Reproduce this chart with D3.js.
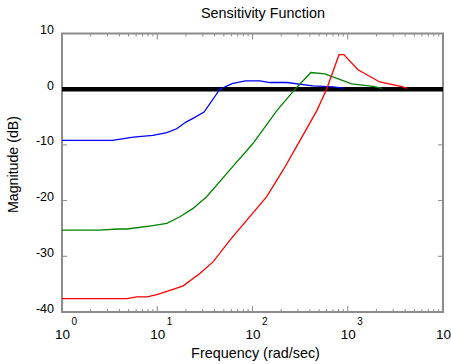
<!DOCTYPE html>
<html>
<head>
<meta charset="utf-8">
<script src="https://cdn.jsdelivr.net/npm/d3@7"></script>
<style>
  body { margin: 0; background: #fff; }
  text { font-family: "Liberation Sans", Arial, sans-serif; fill: #000; }
</style>
</head>
<body>
<div id="chart"></div>
<script>
// frequency (rad/sec) and magnitude (dB)
const blueFreq = [1, 3.4, 5.6, 9, 12.6, 16, 20, 24, 31, 45.5, 61, 84, 120, 152, 230, 430, 700, 900];
const blueMag  = [-9.2, -9.2, -8.6, -8.3, -7.8, -7.1, -5.9, -5.2, -4.1, 0, 1.0, 1.5, 1.5, 1.2, 1.2, 0.6, 0.4, 0.2];

const greenFreq = [1, 2.5, 3.8, 4.8, 9, 12.6, 17.3, 23.8, 33, 62, 101, 181, 280, 410, 575, 1100, 1840, 2300];
const greenMag  = [-25.3, -25.3, -25.1, -25.1, -24.5, -24.1, -22.9, -21.4, -19.3, -13.9, -9.75, -3.8, 0, 3.0, 2.75, 0.95, 0.5, 0.15];

const redFreq = [1, 4.8, 6.1, 7.8, 9.9, 13.6, 18.7, 28, 38.5, 58, 141, 210, 316, 475, 600, 810, 910, 1280, 2170, 3800, 4200];
const redMag  = [-37.6, -37.6, -37.3, -37.3, -36.9, -36.1, -35.3, -33.1, -31, -27.1, -19.3, -14.5, -9.2, -3.8, 0, 6.2, 6.2, 3.5, 1.3, 0.4, 0.15];

const xDecades = [0, 1, 2, 3, 4];
const yTicks = [10, 0, -10, -20, -30, -40];

const width = 451, height = 364;
const plotLeft = 62, plotRight = 443, plotTop = 33.5, plotBottom = 312;

const svg = d3.select('#chart').append('svg')
  .attr('width', width)
  .attr('height', height);

const x = d3.scaleLog().domain([1, 10000]).range([plotLeft, plotRight]);
const y = d3.scaleLinear().domain([-40, 10]).range([plotBottom, plotTop]);

const axisColor = '#8c8c8c';

// minor + major ticks on top and bottom
const minor = [];
for (let d = 0; d < 4; d++) {
  for (let m = 2; m <= 9; m++) minor.push(m * Math.pow(10, d));
}
const tickG = svg.append('g').attr('stroke', axisColor).attr('stroke-width', 1);
minor.forEach(f => {
  tickG.append('line').attr('x1', x(f)).attr('x2', x(f)).attr('y1', plotBottom).attr('y2', plotBottom - 3);
  tickG.append('line').attr('x1', x(f)).attr('x2', x(f)).attr('y1', plotTop).attr('y2', plotTop + 3);
});
xDecades.forEach(d => {
  const f = Math.pow(10, d);
  tickG.append('line').attr('x1', x(f)).attr('x2', x(f)).attr('y1', plotBottom).attr('y2', plotBottom - 6);
  tickG.append('line').attr('x1', x(f)).attr('x2', x(f)).attr('y1', plotTop).attr('y2', plotTop + 6);
});
yTicks.forEach(v => {
  tickG.append('line').attr('x1', plotLeft).attr('x2', plotLeft + 5).attr('y1', y(v)).attr('y2', y(v));
  tickG.append('line').attr('x1', plotRight).attr('x2', plotRight - 5).attr('y1', y(v)).attr('y2', y(v));
});

// frame
svg.append('rect')
  .attr('x', plotLeft).attr('y', plotTop)
  .attr('width', plotRight - plotLeft).attr('height', plotBottom - plotTop)
  .attr('fill', 'none')
  .attr('stroke', axisColor)
  .attr('stroke-width', 2);

// 0 dB reference line
svg.append('line')
  .attr('x1', x(1)).attr('x2', x(10000))
  .attr('y1', y(0)).attr('y2', y(0))
  .attr('stroke', '#000')
  .attr('stroke-width', 4.5);

const line = d3.line()
  .x(d => x(d[0]))
  .y(d => y(d[1]));

const series = [
  { f: blueFreq, m: blueMag, color: '#0000ff' },
  { f: greenFreq, m: greenMag, color: '#008000' },
  { f: redFreq, m: redMag, color: '#ff0000' }
];
series.forEach(s => {
  svg.append('path')
    .datum(d3.zip(s.f, s.m))
    .attr('fill', 'none')
    .attr('stroke', s.color)
    .attr('stroke-width', 1.3)
    .attr('d', line);
});

// y tick labels
yTicks.forEach(v => {
  svg.append('text')
    .attr('x', 54)
    .attr('y', y(v) + 0.5)
    .attr('text-anchor', 'end')
    .attr('font-size', 12.5)
    .text(v);
});

// x tick labels: 10 with exponent (the last exponent falls off the page)
xDecades.forEach(d => {
  const t = svg.append('text')
    .attr('x', x(Math.pow(10, d)) - 7)
    .attr('y', 339)
    .attr('font-size', 13.5);
  t.append('tspan').text('10');
  if (d < 4) {
    t.append('tspan')
      .attr('dy', -14)
      .attr('dx', 1.5)
      .attr('font-size', 10)
      .text(d);
  }
});

svg.append('text')
  .attr('x', 263).attr('y', 17.5)
  .attr('text-anchor', 'middle')
  .attr('font-size', 14.4)
  .text('Sensitivity Function');

svg.append('text')
  .attr('x', 255.5).attr('y', 357.5)
  .attr('text-anchor', 'middle')
  .attr('font-size', 14.4)
  .text('Frequency (rad/sec)');

svg.append('text')
  .attr('transform', 'translate(18,164.5) rotate(-90)')
  .attr('text-anchor', 'middle')
  .attr('font-size', 14.2)
  .text('Magnitude (dB)');
</script>
</body>
</html>
